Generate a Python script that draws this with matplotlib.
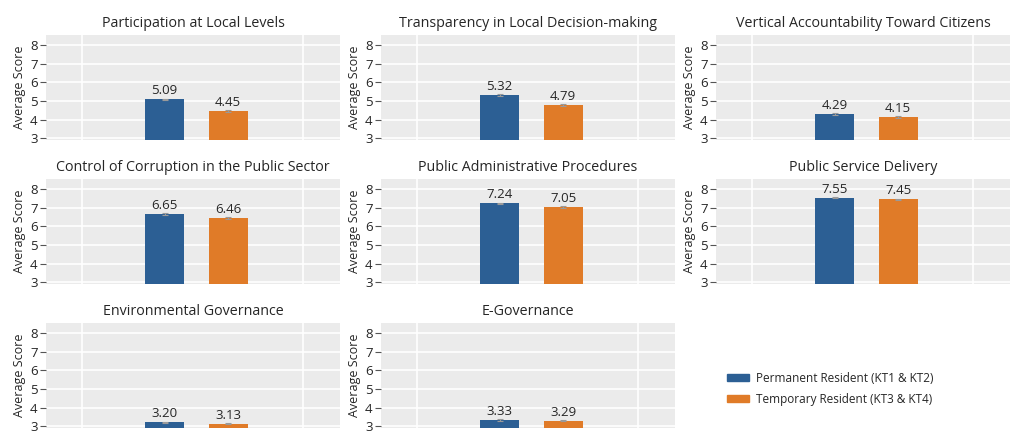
import matplotlib
import matplotlib.pyplot as plt
from matplotlib.patches import Patch

matplotlib.use("Agg")

plt.rcParams["font.family"] = ["Open Sans", "DejaVu Sans"]

titles = [
    "Participation at Local Levels",
    "Transparency in Local Decision-making",
    "Vertical Accountability Toward Citizens",
    "Control of Corruption in the Public Sector",
    "Public Administrative Procedures",
    "Public Service Delivery",
    "Environmental Governance",
    "E-Governance",
]
permanent = [5.09, 5.32, 4.29, 6.65, 7.24, 7.55, 3.20, 3.33]
temporary = [4.45, 4.79, 4.15, 6.46, 7.05, 7.45, 3.13, 3.29]
# tiny error bars visible on top of the bars (estimated)
perm_err = [0.04, 0.04, 0.04, 0.05, 0.04, 0.04, 0.03, 0.03]
temp_err = [0.04, 0.04, 0.04, 0.05, 0.04, 0.04, 0.03, 0.03]
series_names = ["Permanent Resident (KT1 & KT2)", "Temporary Resident (KT3 & KT4)"]
yticks = [3, 4, 5, 6, 7, 8]

BLUE = "#2c5f94"
ORANGE = "#e07b28"
PANEL_BG = "#ebebeb"
TEXT = "#262626"

W, H = 1024, 448
fig = plt.figure(figsize=(W / 100, H / 100), dpi=100)

col_left = [46, 381, 716]
row_top = [35, 179, 323]
pw, ph = 294, 105

for i, title in enumerate(titles):
    r, c = divmod(i, 3)
    ax = fig.add_axes([col_left[c] / W, 1 - (row_top[r] + ph) / H, pw / W, ph / H])
    ax.set_facecolor(PANEL_BG)
    for s in ax.spines.values():
        s.set_visible(False)

    vals = [permanent[i], temporary[i]]
    errs = [perm_err[i], temp_err[i]]
    xs = [0, 1]
    ax.bar(xs, vals, width=0.62, color=[BLUE, ORANGE], zorder=3)
    ax.errorbar(xs, vals, yerr=errs, fmt="none", ecolor="#9a9a9a", elinewidth=0.8,
                capsize=2, capthick=0.8, zorder=4)
    for x, v in zip(xs, vals):
        ax.annotate(f"{v:.2f}", (x, v), xytext=(0, 1.5), textcoords="offset points",
                    ha="center", va="bottom", fontsize=9.5, color=TEXT, zorder=5)

    ax.set_xlim(-1.87, 2.76)
    ax.set_ylim(2.9, 8.55)
    ax.set_yticks(yticks)
    ax.set_xticks([])
    for gx in [-1.3, 2.17]:
        ax.axvline(gx, color="white", lw=1.2, zorder=1)
    ax.grid(axis="y", color="white", lw=1.2, zorder=1)
    ax.set_axisbelow(True)
    ax.tick_params(axis="y", length=4, width=0.8, color="#555555", labelsize=9.5,
                   labelcolor=TEXT, pad=2)
    ax.set_ylabel("Average Score", fontsize=9, color=TEXT, labelpad=3)
    ax.set_title(title, fontsize=10.3, color=TEXT, pad=6)

handles = [Patch(color=BLUE), Patch(color=ORANGE)]
fig.legend(handles, series_names, loc="upper left", bbox_to_anchor=(716 / W, 1 - 361 / H),
           frameon=False, fontsize=8.5, handlelength=1.9, handleheight=0.5,
           labelspacing=0.7, handletextpad=0.6, labelcolor=TEXT)

fig.savefig("out.png", dpi=100)
